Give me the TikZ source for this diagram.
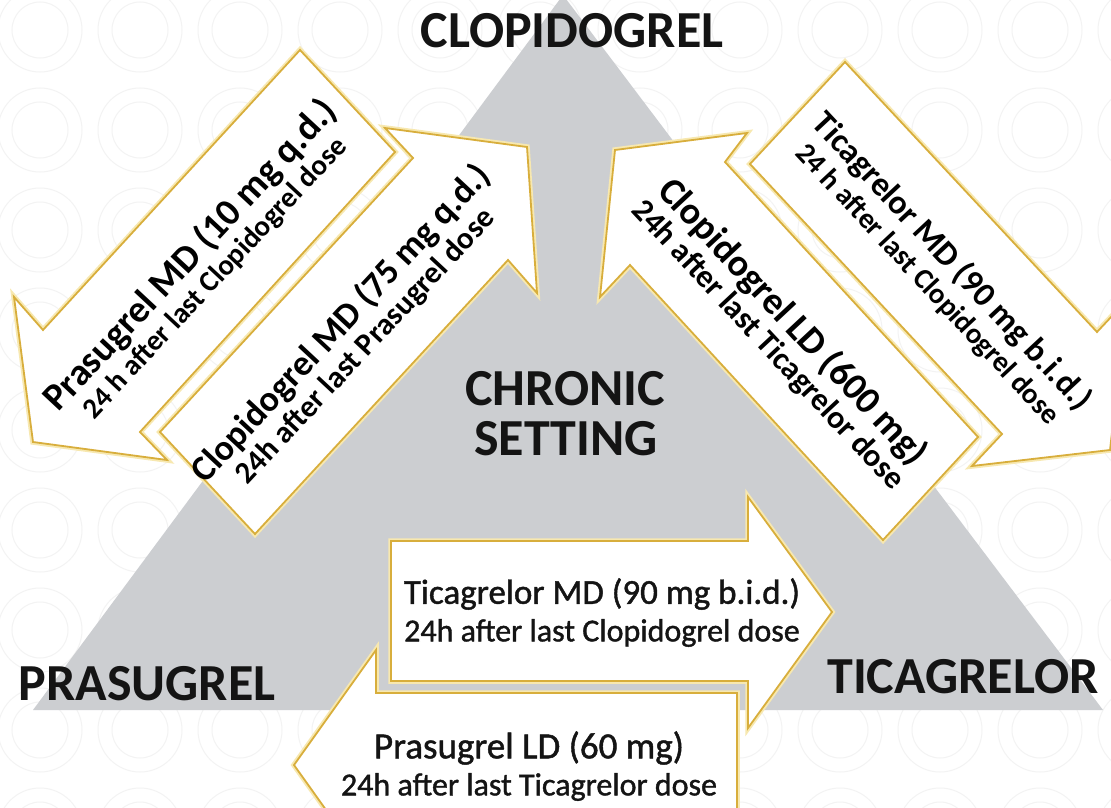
\documentclass[tikz,border=0pt]{standalone}
\usepackage{fontspec}
\setmainfont{Carlito}
\newfontfamily\semib[FakeBold=1.2]{Carlito}
\definecolor{tri}{RGB}{204,206,209}
\definecolor{gold}{RGB}{216,174,60}
\definecolor{glow}{RGB}{247,232,176}
\definecolor{pat}{RGB}{243,243,243}
\begin{document}
\begin{tikzpicture}[x=1pt,y=-1pt,
  blk/.style={fill=white, draw=gold, line width=1.8pt, line join=miter,
              preaction={draw=glow, line width=5.5pt, line join=miter}},
  big/.style={font=\fontsize{52}{56}\selectfont\bfseries, inner sep=0pt, text=black!92},
  dtxt/.style={inner sep=0pt, text=black, font=\bfseries},
  htxt/.style={inner sep=0pt, text=black!92}]
\useasboundingbox (0,0) rectangle (1111,808);
\begin{scope}
\clip (0,0) rectangle (1111,808);
\fill[white] (0,0) rectangle (1111,808);
\foreach \i in {0,...,11}{
  \foreach \j in {0,...,8}{
    \draw[pat, line width=1pt] ({\i*100+40},{\j*100+30}) circle (42pt) circle (28pt);
  }
}
% gray triangle
\fill[tri] (33,710) -- (1103,710) -- (563,-5) -- cycle;
% diagonal arrows
\draw[blk] (300,50) -- (395,152) -- (140,432) -- (167,460) -- (33,442) -- (14,297) -- (43,330) -- cycle;
\draw[blk] (160,432) -- (413,158) -- (385,128) -- (527,147) -- (537,293) -- (508,260) -- (255,534) -- cycle;
\draw[blk] (615,150) -- (747,133) -- (725,162) -- (978,437) -- (883,540) -- (630,265) -- (600,297) -- cycle;
\draw[blk] (845,62) -- (1097,332) -- (1127,300) -- (1110,450) -- (972,466) -- (1002,434) -- (750,164) -- cycle;
% horizontal arrows
\draw[blk] (391,541) -- (748,541) -- (748,497) -- (832,612) -- (748,728) -- (748,681) -- (391,681) -- cycle;
\draw[blk] (737,693) -- (376,693) -- (376,650) -- (294,765) -- (376,880) -- (376,837) -- (737,837) -- cycle;
\end{scope}
% big labels
\node[big] (clop) at (572,31) {CLOPIDOGREL};
\node[big] (chr1) at (565,389) {CHRONIC};
\node[big] (chr2) at (566,439) {SETTING};
\node[big] (pras) at (147,684) {PRASUGREL};
\node[big] (tica) at (963,677) {TICAGRELOR};
% arrow 1 text
\node[dtxt, rotate=47, font=\fontsize{38}{40}\selectfont\bfseries] (a1l1) at (190.6,255.4) {Prasugrel MD (10 mg q.d.)};
\node[dtxt, rotate=47, font=\fontsize{29}{31}\selectfont\bfseries] (a1l2) at (215.4,278.6) {24 h after last Clopidogrel dose};
% arrow 2 text
\node[dtxt, rotate=47, font=\fontsize{36}{38}\selectfont\bfseries] (a2l1) at (341,324) {Clopidogrel MD (75 mg q.d.)};
\node[dtxt, rotate=47, font=\fontsize{31}{33}\selectfont\bfseries] (a2l2) at (366,347) {24h after last Prasugrel dose};
% arrow 3 text
\node[dtxt, rotate=-47, font=\fontsize{38}{40}\selectfont\bfseries] (a3l1) at (792.4,322.4) {Clopidogrel LD (600 mg)};
\node[dtxt, rotate=-47, font=\fontsize{32}{34}\selectfont\bfseries] (a3l2) at (767.6,345.6) {24h after last Ticagrelor dose};
% arrow 4 text
\node[dtxt, rotate=-47, font=\fontsize{34}{36}\selectfont\bfseries] (a4l1) at (952,262) {Ticagrelor MD (90 mg b.i.d.)};
\node[dtxt, rotate=-47, font=\fontsize{29}{31}\selectfont\bfseries] (a4l2) at (927,285) {24 h after last Clopidogrel dose};
% arrow 5 text
\node[htxt, font=\fontsize{35}{37}\semib] (a5l1) at (602,594) {Ticagrelor MD (90 mg b.i.d.)};
\node[htxt, font=\fontsize{32}{34}\semib] (a5l2) at (602,633) {24h after last Clopidogrel dose};
% arrow 6 text
\node[htxt, font=\fontsize{37}{39}\semib] (a6l1) at (529,748) {Prasugrel LD (60 mg)};
\node[htxt, font=\fontsize{32}{34}\semib] (a6l2) at (529,787) {24h after last Ticagrelor dose};
\end{tikzpicture}
\end{document}
